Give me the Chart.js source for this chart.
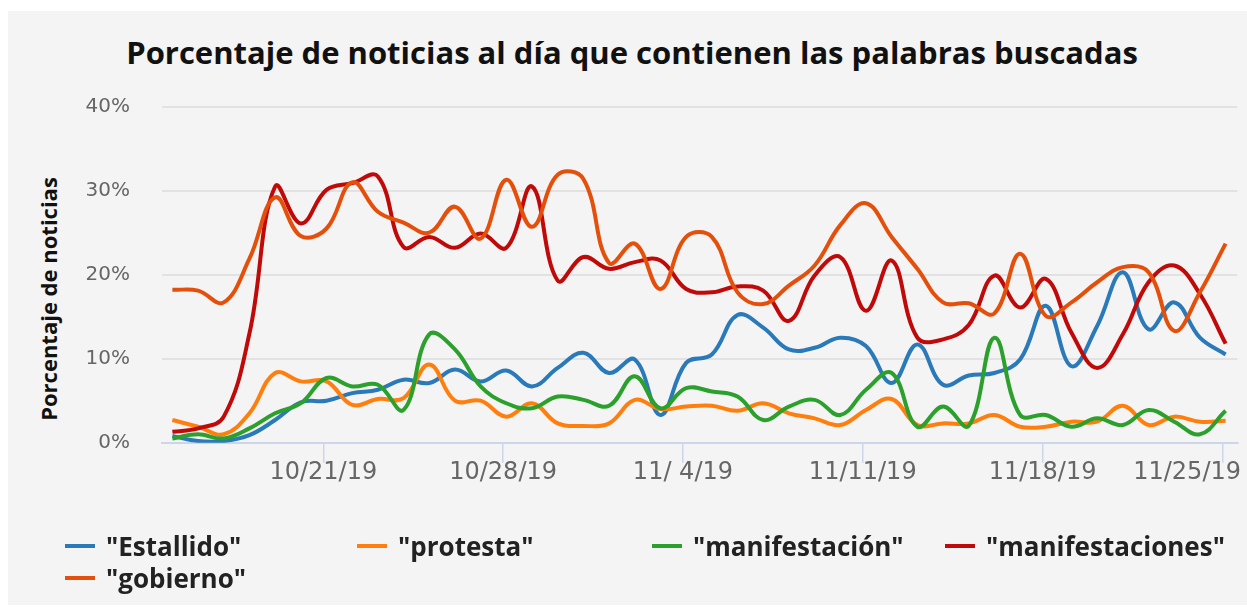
<!DOCTYPE html>
<html>
<head>
<meta charset="utf-8">
<script src="https://cdn.jsdelivr.net/npm/chart.js@4.4.0/dist/chart.umd.min.js"></script>
<style>
  html, body { margin: 0; padding: 0; background: #fff; }
  #panel { position: absolute; left: 8px; top: 11px; width: 1239px; height: 594px; background: #f4f4f4; }
  #chart { position: absolute; left: 0; top: 0; }
  #title { position: absolute; left: 0; top: 32px; width: 1264px; text-align: center;
           font: 700 31px/40px "Open Sans"; color: #111; white-space: nowrap; }
  #ytitle { position: absolute; left: -102px; top: 286px; width: 300px; text-align: center;
            font: 700 22px/26px "Open Sans"; color: #111; transform: rotate(-90deg); white-space: nowrap; }
  .item { position: absolute; height: 34px; font: 700 26px/34px "Open Sans"; color: #222; white-space: nowrap; }
  .item i { position: absolute; left: 0; top: 15px; width: 30px; height: 4px; }
  .item span { position: absolute; left: 41px; top: 0; }
</style>
</head>
<body>
<div id="panel"></div>
<div id="title">Porcentaje de noticias al día que contienen las palabras buscadas</div>
<div id="ytitle">Porcentaje de noticias</div>
<canvas id="chart" width="1247" height="607"></canvas>
<div id="legend"></div>
<script>
const dates = [
  "10/15/19", "10/16/19", "10/17/19", "10/18/19", "10/19/19", "10/20/19", "10/21/19",
  "10/22/19", "10/23/19", "10/24/19", "10/25/19", "10/26/19", "10/27/19", "10/28/19",
  "10/29/19", "10/30/19", "10/31/19", "11/1/19", "11/2/19", "11/3/19", "11/4/19",
  "11/5/19", "11/6/19", "11/7/19", "11/8/19", "11/9/19", "11/10/19", "11/11/19",
  "11/12/19", "11/13/19", "11/14/19", "11/15/19", "11/16/19", "11/17/19", "11/18/19",
  "11/19/19", "11/20/19", "11/21/19", "11/22/19", "11/23/19", "11/24/19", "11/25/19",
];
const tickLabels = ["10/21/19", "10/28/19", "11/ 4/19", "11/11/19", "11/18/19", "11/25/19"];

const estallido = [0.8, 0.2, 0.2, 0.9, 2.7, 4.8, 5.0, 5.9, 6.3, 7.5, 7.1, 8.7, 7.3, 8.6,
  6.7, 8.9, 10.7, 8.3, 9.9, 3.3, 9.5, 10.5, 15.2, 13.7, 11.1, 11.3, 12.5, 11.5,
  7.1, 11.7, 6.9, 8.0, 8.3, 9.9, 16.3, 9.1, 13.9, 20.3, 13.5, 16.7, 12.5, 10.5];
const protesta = [2.7, 1.9, 1.0, 3.5, 8.3, 7.3, 7.3, 4.5, 5.2, 5.3, 9.3, 5.0, 5.0, 3.1,
  4.7, 2.3, 2.0, 2.3, 5.1, 4.0, 4.3, 4.4, 3.8, 4.7, 3.5, 2.9, 2.1, 3.9,
  5.2, 2.1, 2.3, 2.3, 3.3, 1.9, 1.9, 2.5, 2.5, 4.4, 2.1, 3.1, 2.5, 2.6];
const manifestacion = [0.5, 1.0, 0.5, 1.7, 3.5, 4.7, 7.7, 6.7, 6.9, 3.9, 12.9, 11.1, 6.7, 4.7,
  4.1, 5.5, 5.1, 4.4, 7.9, 4.1, 6.5, 6.1, 5.5, 2.7, 4.3, 5.1, 3.3, 6.3,
  8.3, 1.9, 4.3, 2.0, 12.5, 3.3, 3.3, 1.9, 2.9, 2.1, 3.9, 2.5, 1.0, 3.8];
const manifestaciones = [1.3, 1.7, 3.1, 13.0, 30.5, 26.1, 30.1, 30.9, 31.7, 23.3, 24.5, 23.2, 24.9, 23.2,
  30.5, 19.3, 22.1, 20.7, 21.5, 21.7, 18.3, 17.9, 18.6, 18.1, 14.5, 19.9, 22.1, 15.7,
  21.7, 12.5, 12.3, 14.0, 19.9, 16.1, 19.5, 13.1, 8.9, 12.9, 19.1, 21.1, 17.7, 11.8];
const gobierno = [18.2, 18.1, 16.7, 21.9, 29.2, 24.6, 25.5, 31.0, 27.5, 26.2, 25.0, 28.1, 24.3, 31.3,
  25.7, 31.9, 31.4, 21.4, 23.7, 18.3, 24.5, 24.5, 17.9, 16.5, 18.7, 21.1, 25.9, 28.5,
  24.5, 20.7, 16.7, 16.6, 15.4, 22.5, 15.1, 16.7, 19.1, 20.9, 20.3, 13.3, 17.9, 23.7];

const SERIES = [
  { label: '"Estallido"',       data: estallido,       color: "#2a7ab9" },
  { label: '"protesta"',        data: protesta,        color: "#ff7f0e" },
  { label: '"manifestación"',   data: manifestacion,   color: "#2ca02c" },
  { label: '"manifestaciones"', data: manifestaciones, color: "#c00a0a" },
  { label: '"gobierno"',        data: gobierno,        color: "#e4500b" },
];

// points are stamped in UTC, the axis is local time (3h behind)
const TZ_SHIFT = 3 / 24;
const tickIdx = tickLabels.map(t => dates.indexOf(t.replace(" ", "")));

// legend (html, fixed columns like the original)
const legendCols = [65, 357, 652, 945];
const legendRows = [529, 561];
const legend = document.getElementById("legend");
SERIES.forEach((s, i) => {
  const el = document.createElement("div");
  el.className = "item";
  el.style.left = legendCols[i % 4] + "px";
  el.style.top = legendRows[Math.floor(i / 4)] + "px";
  el.innerHTML = `<i style="background:${s.color}"></i><span></span>`;
  el.querySelector("span").textContent = s.label;
  legend.appendChild(el);
});

const xLabels = {
  id: "xLabels",
  afterDraw(chart) {
    const { ctx, scales: { x } } = chart;
    ctx.save();
    ctx.font = '24px "DejaVu Sans"';
    ctx.fillStyle = "#666";
    ctx.textAlign = "center";
    ctx.textBaseline = "middle";
    tickLabels.forEach((t, i) => {
      const w = ctx.measureText(t).width;
      let px = x.getPixelForValue(tickIdx[i]);
      if (px + w / 2 > 1241) px = 1241 - w / 2;
      ctx.fillText(t, px, 473);
    });
    ctx.restore();
  },
};

new Chart(document.getElementById("chart"), {
  type: "line",
  data: {
    datasets: SERIES.map((s, i) => ({
      label: s.label,
      data: s.data.map((v, d) => ({ x: d + TZ_SHIFT, y: v })),
      borderColor: s.color,
      backgroundColor: s.color,
      borderWidth: 4,
      pointRadius: 0,
      tension: 0.4,
      order: SERIES.length - i,
    })),
  },
  options: {
    responsive: false,
    animation: false,
    layout: { padding: { top: 106.7, right: 9.7, left: 0, bottom: 0 } },
    plugins: { legend: { display: false }, tooltip: { enabled: false }, title: { display: false } },
    scales: {
      x: {
        type: "linear",
        min: -0.29,
        max: 41.58,
        afterBuildTicks(s) { s.ticks = tickIdx.map(v => ({ value: v })); },
        afterFit(s) { s.height = 164.3; s.paddingLeft = 0; s.paddingRight = 0; },
        ticks: { display: false },
        grid: { drawOnChartArea: false, drawTicks: true, tickLength: 20, color: "#ccd6eb", lineWidth: 1.5 },
        border: { color: "#ccd6eb", width: 2 },
      },
      y: {
        min: 0,
        max: 40,
        afterFit(s) { s.width = 161.7; },
        ticks: {
          stepSize: 10,
          padding: 31.7,
          color: "#666",
          font: { family: "DejaVu Sans", size: 20 },
          callback: v => v + "%",
        },
        grid: { drawTicks: false, lineWidth: 2, color: c => (c.tick && c.tick.value === 0 ? "rgba(0,0,0,0)" : "#e2e2e2") },
        border: { display: false },
      },
    },
  },
  plugins: [xLabels],
});
</script>
</body>
</html>
